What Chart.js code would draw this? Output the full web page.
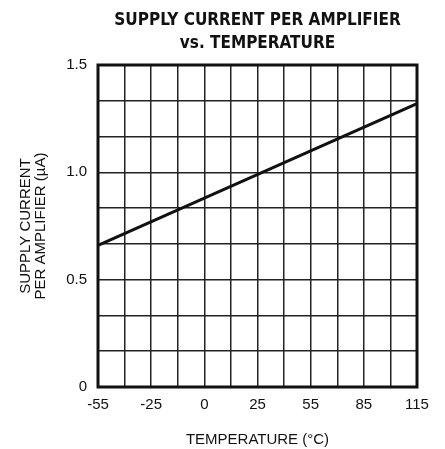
<!DOCTYPE html>
<html><head><meta charset="utf-8">
<script src="https://cdn.jsdelivr.net/npm/chart.js@4"></script>
<style>html,body{margin:0;padding:0;background:#fff}#wrap{width:445px;height:449px}</style>
</head><body><div id="wrap"><canvas id="c"></canvas></div>
<script>
// tick labels as printed (every other grid line is labelled)
const tempTicks=['-55','-25','0','25','55','85','115'];
const currentTicks=['0','0.5','1.0','1.5'];
// series: supply current per amplifier (uA) vs temperature
const seriesTemp=['-55','115'];
const seriesCurrent=[0.66,1.32];
const titleLines=['SUPPLY CURRENT PER AMPLIFIER','vs. TEMPERATURE'];

const tempLabels=[];
tempTicks.forEach((t,i)=>{tempLabels.push(t);if(i<tempTicks.length-1)tempLabels.push('');});

const narrow='"DejaVu Sans Condensed","Liberation Sans Narrow","Arial Narrow",sans-serif';
const plain='"Liberation Sans",Arial,sans-serif';

// frame round the plot + title centred over the plot area
const frame={id:'frame',
    afterDatasetsDraw(chart){
        const a=chart.chartArea,ctx=chart.ctx;
        ctx.save();ctx.strokeStyle='#111';ctx.lineWidth=3;
        ctx.strokeRect(a.left,a.top,a.right-a.left,a.bottom-a.top);
        ctx.restore();
    },
    afterDraw(chart){
        const a=chart.chartArea,ctx=chart.ctx;
        ctx.save();
        ctx.fillStyle='#111';ctx.font='bold 17px '+narrow;
        ctx.textAlign='center';ctx.textBaseline='alphabetic';
        const cx=(a.left+a.right)/2;
        ctx.fillText(titleLines[0],cx,25);
        ctx.fillText(titleLines[1],cx,48);
        ctx.restore();
    }
};

new Chart(document.getElementById('c'),{
    type:'line',
    data:{labels:tempLabels,datasets:[{
        data:seriesTemp.map((t,i)=>({x:t,y:seriesCurrent[i]})),
        borderColor:'#111',borderWidth:3,pointRadius:0,tension:0
    }]},
    options:{
        responsive:true,maintainAspectRatio:false,animation:false,
        layout:{padding:{left:0,right:28,top:65,bottom:0}},
        plugins:{legend:{display:false},tooltip:{enabled:false},title:{display:false}},
        scales:{
            x:{
                grid:{color:'#222',lineWidth:1.5,drawTicks:false},
                border:{display:false},
                ticks:{color:'#111',autoSkip:false,maxRotation:0,padding:9,
                    font:{family:plain,size:15},
                    callback:(v,i)=>tempLabels[i]},
                title:{display:true,text:'TEMPERATURE (°C)',color:'#111',
                    font:{family:plain,size:15},padding:{top:6,bottom:0}},
                afterFit:s=>{s.height=62;}
            },
            y:{
                min:0,max:1.5,
                grid:{color:'#222',lineWidth:1.5,drawTicks:false},
                border:{display:false},
                ticks:{count:10,color:'#111',padding:11,
                    font:{family:plain,size:15},
                    callback:(v,i)=>i%3===0?currentTicks[i/3]:''},
                title:{display:true,text:['SUPPLY CURRENT','PER AMPLIFIER (\u00b5A)'],color:'#111',
                    font:{family:plain,size:15,lineHeight:1.0},padding:{top:18,bottom:0}},
                afterFit:s=>{s.width=98;}
            }
        }
    },
    plugins:[frame]
});
</script></body></html>
